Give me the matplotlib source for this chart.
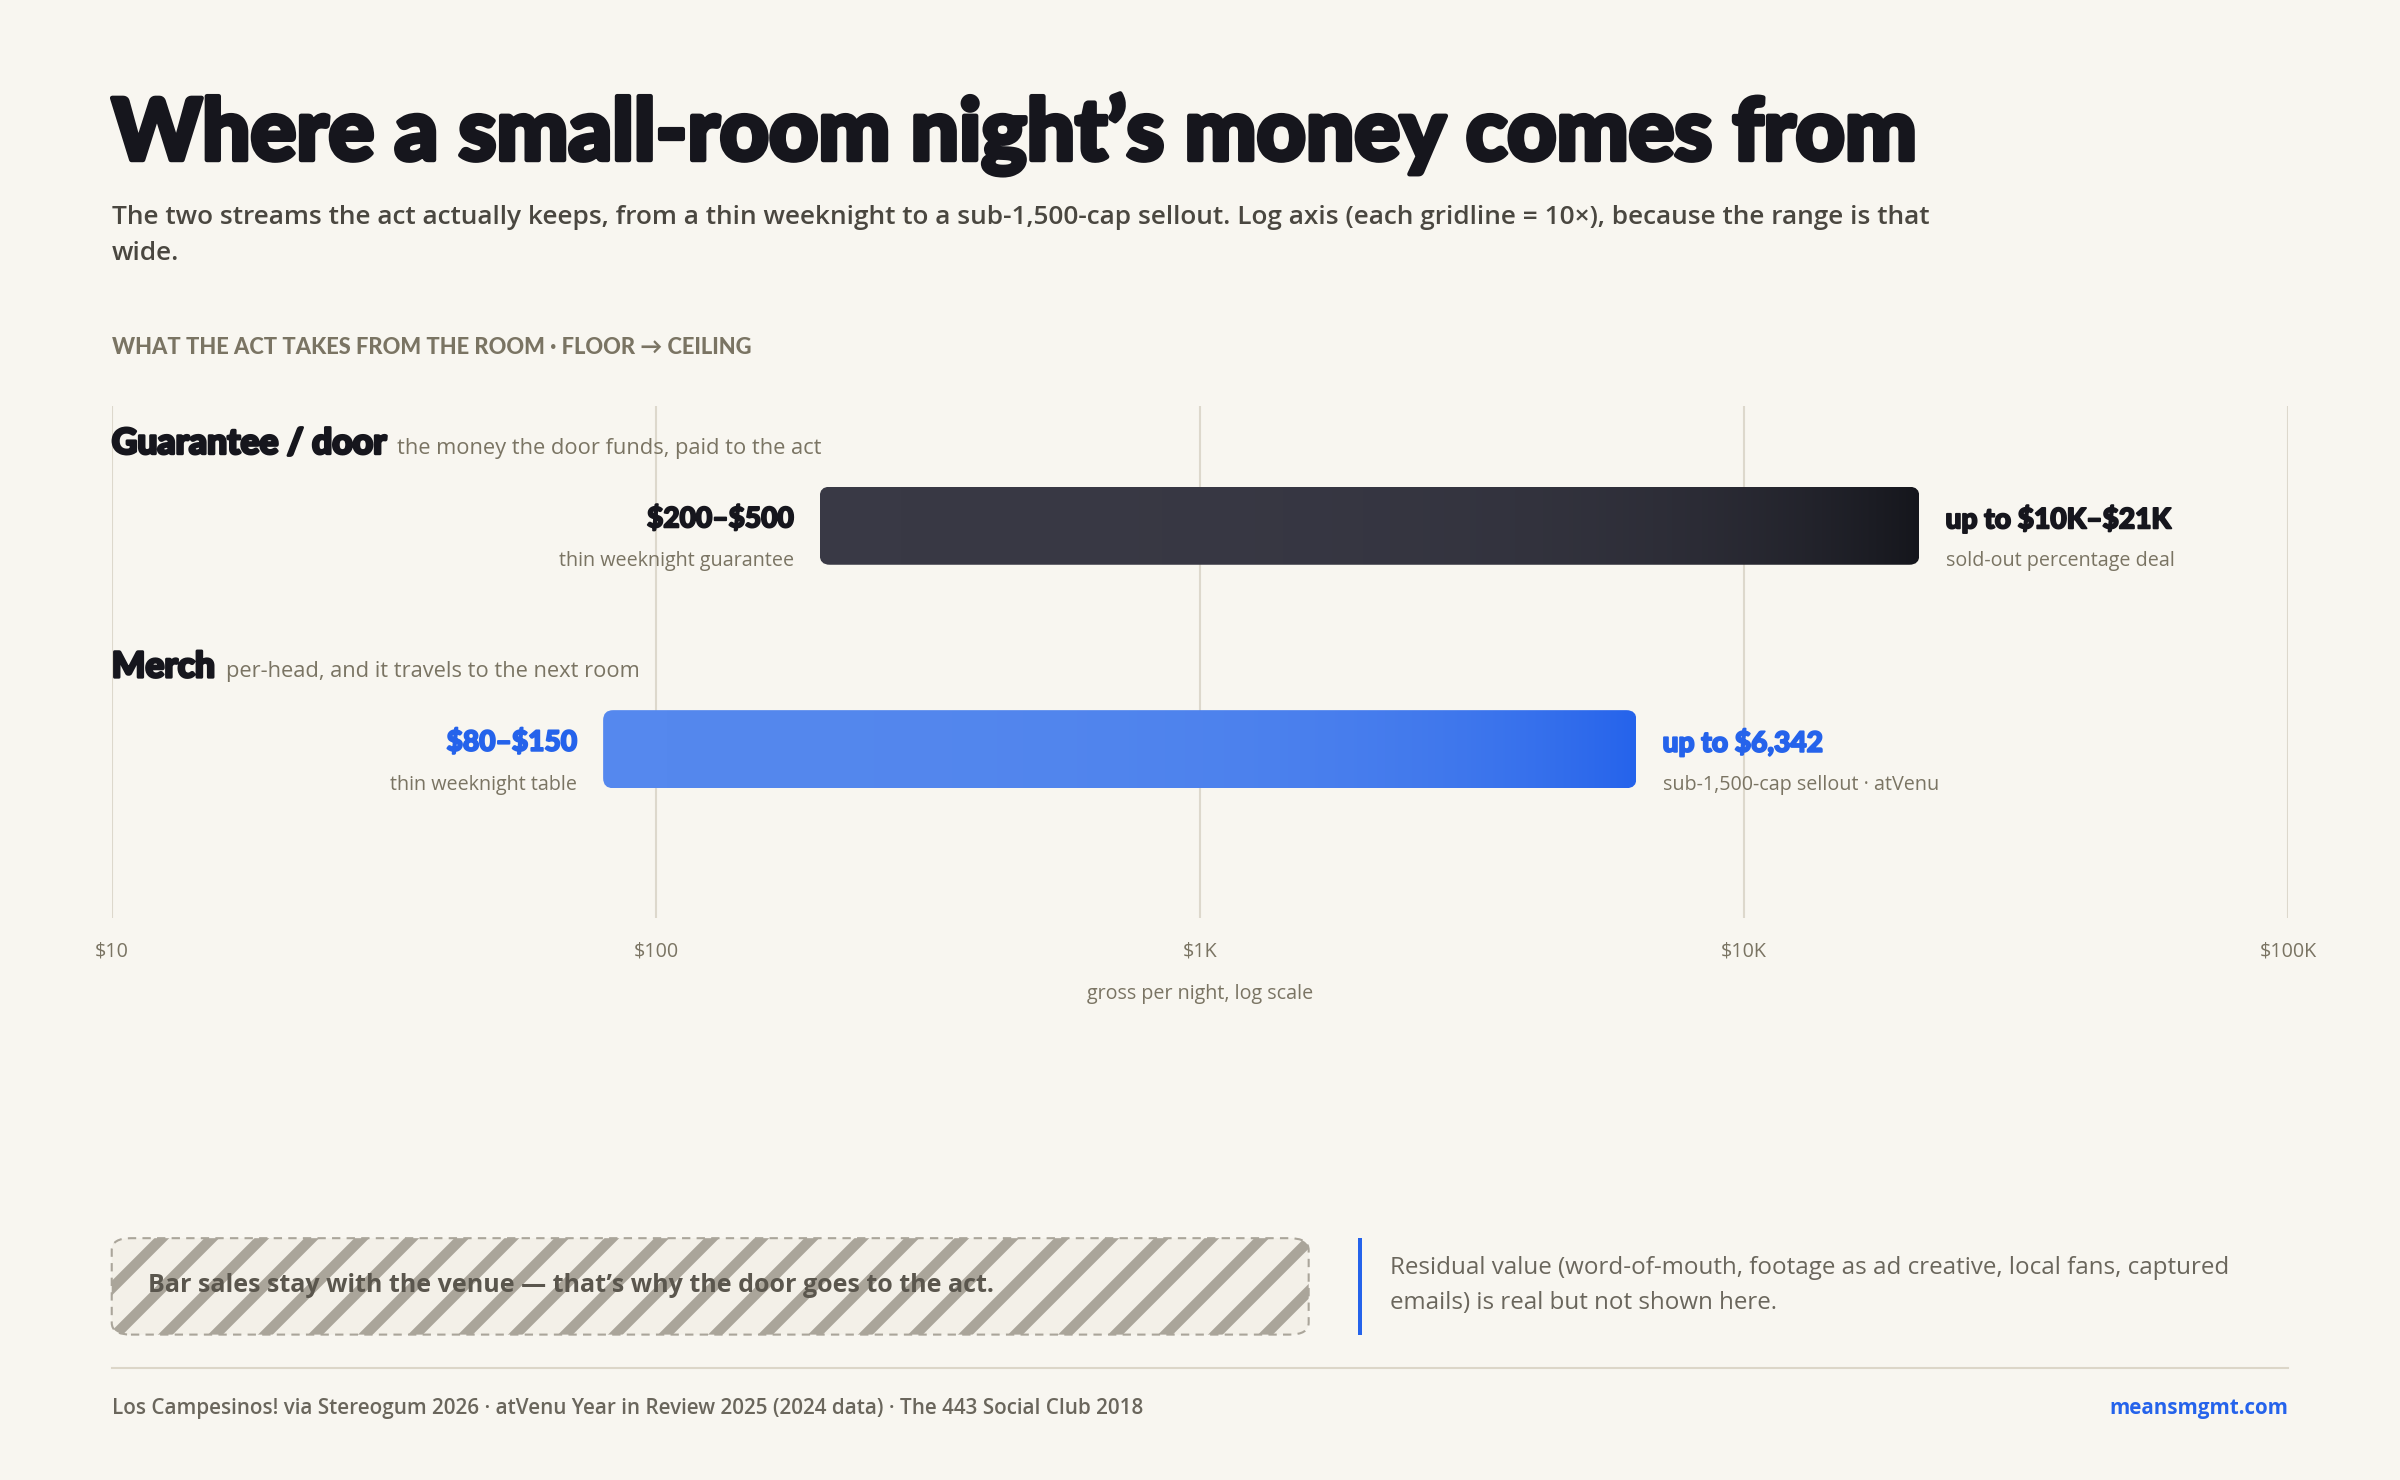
import numpy as np
import matplotlib
matplotlib.use("Agg")
import matplotlib.pyplot as plt
from matplotlib.patches import FancyBboxPatch, Rectangle
from matplotlib.colors import LinearSegmentedColormap
import matplotlib.patheffects as pe

matplotlib.rcParams["hatch.color"] = "#e8e4da"
matplotlib.rcParams["hatch.linewidth"] = 5

streams = ["Guarantee / door", "Merch"]
notes = ["the money the door funds, paid to the act", "per-head, and it travels to the next room"]
lows = [200, 80]
highs = [21000, 6342]
low_labels = [r"\$200–\$500", r"\$80–\$150"]
low_subs = ["thin weeknight guarantee", "thin weeknight table"]
high_labels = [r"up to \$10K–\$21K", r"up to \$6,342"]
high_subs = ["sold-out percentage deal", "sub-1,500-cap sellout · atVenu"]
ticks = [10, 100, 1000, 10000, 100000]
tick_labels = [r"\$10", r"\$100", r"\$1K", r"\$10K", r"\$100K"]

BG = "#f8f6f0"
INK = "#16161d"
GREY = "#7a7463"
BLUE = "#2563eb"
W, H = 1568, 967
HEAVY = ["Lato", "DejaVu Sans"]
BODY = ["Open Sans", "DejaVu Sans"]

fig = plt.figure(figsize=(16, 9.8667), dpi=150, facecolor=BG)
def fx(px): return px / W
def fy(py): return 1 - py / H
def thick(w, c):
    return [pe.withStroke(linewidth=w, foreground=c)]

fig.text(fx(73), fy(88), "Where a small-room night’s money comes from", family=HEAVY,
         weight="black", fontsize=41, color=INK, va="center",
         path_effects=thick(2.2, INK))
fig.text(fx(73), fy(154), "The two streams the act actually keeps, from a thin weeknight to a sub-1,500-cap sellout. Log axis (each gridline = 10×), because the range is that\nwide.",
         family=BODY, fontsize=12.6, color="#4a4740", va="center", linespacing=1.55,
         weight="semibold")
fig.text(fx(73), fy(227), "WHAT THE ACT TAKES FROM THE ROOM · FLOOR → CEILING", family=HEAVY,
         weight="black", fontsize=10.5, color=GREY, va="center")

ax = fig.add_axes([fx(73), fy(600), fx(1495) - fx(73), fy(265) - fy(600)])
ax.set_facecolor("none")
ax.set_xscale("log")
ax.set_xlim(10, 100000)
ax.set_ylim(600, 265)
for s in ax.spines.values():
    s.set_visible(False)
for t in ticks:
    ax.axvline(t, color="#ddd8cc", lw=1, zorder=0)
ax.set_xticks(ticks)
ax.set_xticklabels(tick_labels, family=BODY, fontsize=9.5, color=GREY)
ax.xaxis.set_minor_locator(matplotlib.ticker.NullLocator())
ax.tick_params(length=0, pad=11)
ax.set_yticks([])
ax.set_xlabel("gross per night, log scale", family=BODY, fontsize=9.5, color=GREY, labelpad=11)

centers = [343.5, 489.5]
heads = [290, 436]
cmaps = [LinearSegmentedColormap.from_list("d", ["#393945", "#15161c"]),
         LinearSegmentedColormap.from_list("b", ["#5588ee", "#2563eb"])]
lab_colors = [INK, BLUE]
renderer = fig.canvas.get_renderer()
for i in range(2):
    c = centers[i]
    grad = np.linspace(0, 1, 256).reshape(1, -1)
    im = ax.imshow(grad, cmap=cmaps[i], aspect="auto",
                   extent=[lows[i], highs[i], c + 25.5, c - 25.5], zorder=2)
    x0, y0 = ax.transData.transform((lows[i], c + 25.5))
    x1, y1 = ax.transData.transform((highs[i], c - 25.5))
    clip = FancyBboxPatch((x0, y0), x1 - x0, y1 - y0, boxstyle="round,pad=0,rounding_size=10",
                          transform=None, facecolor="none", lw=0)
    im.set_clip_path(clip)
    ax.set_xlim(10, 100000)
    ax.set_ylim(600, 265)
    ht = fig.text(fx(73), fy(heads[i]), streams[i], family=HEAVY, weight="black",
                  fontsize=17, color=INK, va="center", path_effects=thick(1.3, INK))
    bb = ht.get_window_extent(renderer)
    fig.text(bb.x1 / fig.bbox.width + fx(7), fy(heads[i] + 3), notes[i], family=BODY,
             fontsize=10.5, color=GREY, va="center", weight="medium")
    for side, x, lab, sub, ha in [(-1, lows[i], low_labels[i], low_subs[i], "right"),
                                  (1, highs[i], high_labels[i], high_subs[i], "left")]:
        ax.annotate(lab, (x, c), xytext=(side * 12.5, 3.3), textcoords="offset points",
                    ha=ha, va="center", family=HEAVY, weight="black", fontsize=13.5,
                    color=lab_colors[i], path_effects=thick(0.9, lab_colors[i]))
        ax.annotate(sub, (x, c), xytext=(side * 12.5, -17), textcoords="offset points",
                    ha=ha, va="center", family=BODY, fontsize=9.5, color=GREY,
                    weight="medium")

box = FancyBboxPatch((fx(73), fy(872)), fx(855) - fx(73), fy(809) - fy(872),
                     boxstyle="round,pad=0,rounding_size=0.008", transform=fig.transFigure,
                     facecolor="#f3f0e8", edgecolor="#aaa59a", lw=1, ls=(0, (4, 3)),
                     hatch="/", zorder=1)
fig.patches.append(box)
fig.text(fx(97), fy(840), "Bar sales stay with the venue — that’s why the door goes to the act.",
         family=BODY, weight="bold", fontsize=12, color="#5a564d", va="center")
fig.patches.append(Rectangle((fx(887), fy(872)), fx(3), fy(809) - fy(872),
                             transform=fig.transFigure, facecolor=BLUE, lw=0))
fig.text(fx(908), fy(840), "Residual value (word-of-mouth, footage as ad creative, local fans, captured\nemails) is real but not shown here.",
         family=BODY, fontsize=11.6, color="#6a665c", va="center", linespacing=1.6,
         weight="medium")
fig.add_artist(plt.Line2D([fx(73), fx(1495)], [fy(894), fy(894)], transform=fig.transFigure,
                          color="#dcd6c8", lw=1))
fig.text(fx(73), fy(920), "Los Campesinos! via Stereogum 2026 · atVenu Year in Review 2025 (2024 data) · The 443 Social Club 2018",
         family=BODY, fontsize=9.9, color="#6a665c", va="center", weight="semibold")
fig.text(fx(1495), fy(920), "meansmgmt.com", family=BODY, weight="bold", fontsize=9.9,
         color=BLUE, va="center", ha="right")

fig.savefig("out.png", dpi=150, facecolor=BG)
